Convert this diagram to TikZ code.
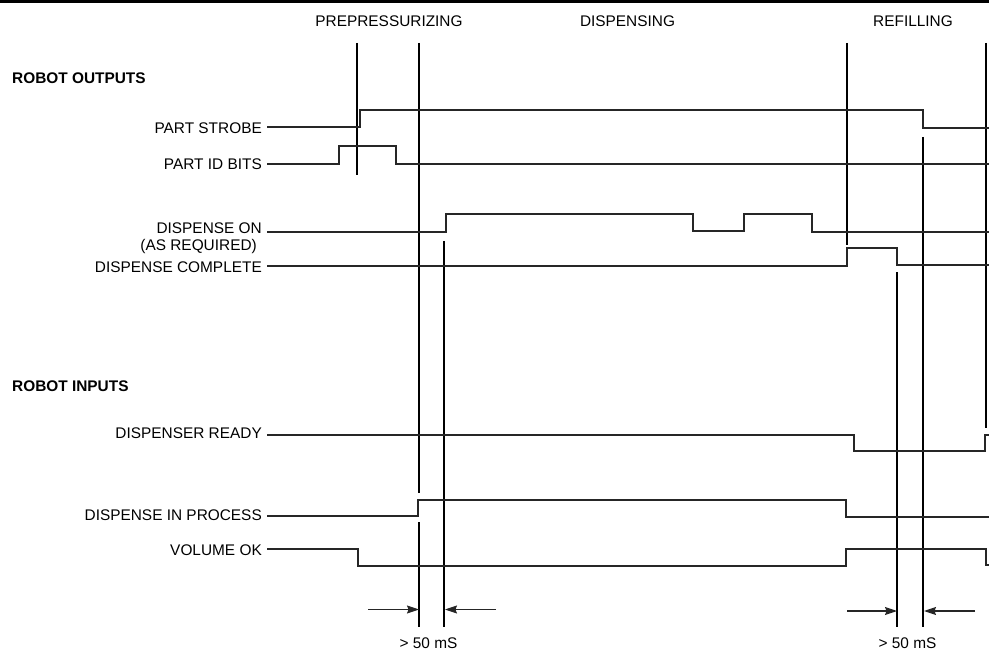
\documentclass[tikz,border=0pt]{standalone}
\usepackage{fontspec}
\setmainfont{Liberation Sans}
\usetikzlibrary{arrows.meta}
\begin{document}
\begin{tikzpicture}[x=1pt,y=-1pt,
  txt/.style={font=\fontsize{15.4}{17}\selectfont, inner sep=0pt},
  lbl/.style={txt, anchor=east},
  hdr/.style={txt},
  grp/.style={font=\bfseries\fontsize{15.4}{17}\selectfont, inner sep=0pt, anchor=west},
  sig/.style={line width=1.2pt, black!85},
  vline/.style={line width=1.2pt, black},
  dimarrow/.style={line width=1.1pt, black!85, -{Stealth[length=12pt,width=8pt,inset=1.5pt]}}]
\useasboundingbox (0,0) rectangle (989,650);
% top rule
\draw[line width=2.8pt] (0,1.4) -- (989,1.4);
% headers
\node[hdr] (hpre) at (389,21) {PREPRESSURIZING};
\node[hdr] (hdis) at (627.5,21) {DISPENSING};
\node[hdr] (href) at (913,21) {REFILLING};
% group labels
\node[grp] (gout) at (12,78) {ROBOT OUTPUTS};
\node[grp] (gin) at (12,386) {ROBOT INPUTS};
% signal labels
\node[lbl] (lps) at (262,128.5) {PART STROBE};
\node[lbl] (lpid) at (262,164) {PART ID BITS};
\node[lbl] (ldon) at (262,228) {DISPENSE ON};
\node[lbl] (ldon2) at (257,246.7) {(AS REQUIRED)};
\node[lbl] (ldc) at (262,267) {DISPENSE COMPLETE};
\node[lbl] (ldr) at (262,433) {DISPENSER READY};
\node[lbl] (ldip) at (262,515) {DISPENSE IN PROCESS};
\node[lbl] (lvok) at (262,550) {VOLUME OK};
% vertical timing lines
\draw[vline] (357,43) -- (357,175);
\draw[vline] (419,43) -- (419,493);
\draw[vline] (419,522) -- (419,627);
\draw[vline] (444,241) -- (444,627);
\draw[vline] (847,43) -- (847,245);
\draw[vline] (897,272) -- (897,627);
\draw[vline] (923,137) -- (923,627);
\draw[vline] (986,43) -- (986,428);
% waveforms
\draw[sig] (267,127) -- (360,127) -- (360,110) -- (923,110) -- (923,128) -- (989,128);
\draw[sig] (267,164) -- (339,164) -- (339,146) -- (396,146) -- (396,164) -- (989,164);
\draw[sig] (267,232) -- (446,232) -- (446,214) -- (693,214) -- (693,231) -- (744,231) -- (744,214) -- (812,214) -- (812,232) -- (989,232);
\draw[sig] (267,266) -- (847,266) -- (847,248) -- (897,248) -- (897,265) -- (989,265);
\draw[sig] (267,435) -- (854,435) -- (854,451) -- (985,451) -- (985,435) -- (989,435);
\draw[sig] (267,516) -- (418,516) -- (418,500) -- (846,500) -- (846,517) -- (989,517);
\draw[sig] (267,549) -- (358,549) -- (358,566) -- (846,566) -- (846,549) -- (986,549) -- (986,565) -- (989,565);
% timing arrows
\coordinate (a1s) at (368,609.5);
\coordinate (a1e) at (419,609.5);
\coordinate (a2s) at (496,609.5);
\coordinate (a2e) at (445,609.5);
\coordinate (b1s) at (847,611);
\coordinate (b1e) at (897,611);
\coordinate (b2s) at (975,611);
\coordinate (b2e) at (924,611);
\draw[dimarrow] (a1s) -- (a1e);
\draw[dimarrow] (a2s) -- (a2e);
\draw[dimarrow] (b1s) -- (b1e);
\draw[dimarrow] (b2s) -- (b2e);
\node[txt] (t1) at (428.5,643) {> 50 mS};
\node[txt] (t2) at (907.5,643) {> 50 mS};
\end{tikzpicture}
\end{document}
